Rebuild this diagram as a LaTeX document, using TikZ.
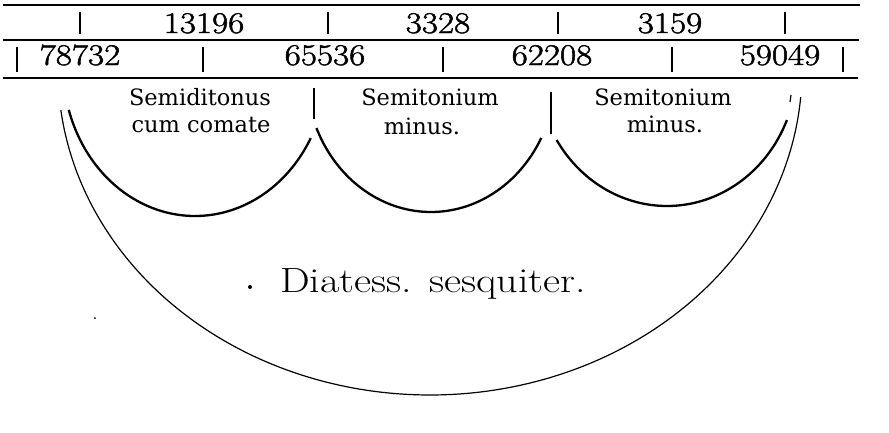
\documentclass[tikz,border=0pt]{standalone}
\usepackage{fontspec}
\usepackage{graphicx}
\newfontfamily\labfont{DejaVu Serif}
\newfontfamily\numfont[FakeBold=1.5]{Latin Modern Roman}
\begin{document}
\begin{tikzpicture}[x=1pt,y=-1pt,
  rule/.style={line width=2pt},
  tickmark/.style={line width=2.4pt},
  arcline/.style={line width=2.3pt},
  bigarc/.style={line width=1.2pt},
  num/.style={anchor=base, inner sep=0pt, font=\numfont\fontsize{30}{32}\selectfont},
  lab/.style={anchor=base, inner sep=0pt, font=\labfont\fontsize{22.5}{24}\selectfont},
  bigtext/.style={anchor=base, inner sep=0pt, font=\fontsize{35}{40}\selectfont}]
\fill[white] (0,0) rectangle (889,432);
\useasboundingbox (0,0) rectangle (889,432);
% rules
\draw[rule] (3,5) -- (860,5);
\draw[rule] (3,40) -- (859,40);
\draw[rule] (3,78) -- (858,78);
% top row ticks
\foreach \x in {80,328,558,785} \draw[tickmark] (\x,12) -- (\x,34);
% bottom row ticks
\foreach \x in {17,203,443,672,843} \draw[tickmark] (\x,47) -- (\x,72);
% top numbers
\node[num] (t1) at (204,33) {\scalebox{1.17}[1]{13196}};
\node[num] (t2) at (438,33) {\scalebox{1.17}[1]{3328}};
\node[num] (t3) at (670,33) {\scalebox{1.17}[1]{3159}};
% bottom numbers
\node[num] (b1) at (80,65) {\scalebox{1.17}[1]{78732}};
\node[num] (b2) at (325,65) {\scalebox{1.17}[1]{65536}};
\node[num] (b3) at (552,65) {\scalebox{1.17}[1]{62208}};
\node[num] (b4) at (780,65) {\scalebox{1.17}[1]{59049}};
% labels
\node[lab] (l1a) at (200,105) {Semiditonus};
\node[lab] (l1b) at (201,132) {cum comate};
\node[lab] (l2a) at (430,105) {Semitonium};
\node[lab] (l2b) at (422,134) {minus.};
\node[lab] (l3a) at (663,105) {Semitonium};
\node[lab] (l3b) at (665,132) {minus.};
% separators between arcs
\draw[tickmark] (314,88) -- (314,119);
\draw[tickmark] (551,92) -- (551,134);
% small arcs
\draw[arcline] plot[domain=28.7:163, samples=90, smooth] ({195+132*cos(\x)},{66+150*sin(\x)});
\draw[arcline] plot[domain=28.1:156.4, samples=90, smooth] ({431+125*cos(\x)},{72+140*sin(\x)});
\draw[arcline] plot[domain=22.7:148.1, samples=90, smooth] ({667+130*cos(\x)},{66+140*sin(\x)});
% big arc
\draw[bigarc] plot[domain=4.8:172.9, samples=160, smooth] ({430+372*cos(\x)},{70+325*sin(\x)});
% big label
\fill (250,287) circle (2);
\node[bigtext] (dia) at (433,292) {\scalebox{1.2}[1]{Diatess. sesquiter.}};
% small specks
\draw[line width=1.2pt] (791,95) -- (790,102);
\fill (95,318) circle (1);
\end{tikzpicture}
\end{document}
